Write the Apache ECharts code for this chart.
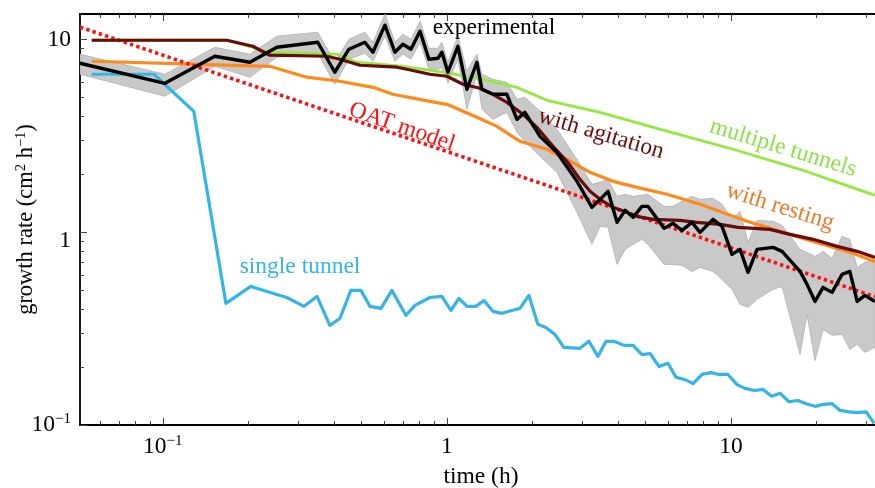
<!DOCTYPE html>
<html>
<head>
<meta charset="utf-8">
<style>
html, body {
  margin: 0;
  padding: 0;
  background: #fff;
}
#chart {
  width: 875px;
  height: 488px;
}
</style>
</head>
<body>
<div id="chart"></div>
<script src="https://cdn.jsdelivr.net/npm/echarts@6/dist/echarts.min.js"></script>
<script>
// axis ranges and ticks
var xMin = 0.0511, xMax = 34.0
var yMin = 0.1, yMax = 13.6
var xMajor = [0.1, 1, 10]
var xMajorLabels = ['10{sup|−1}', '1', '10']
var xMinor = [0.06, 0.07, 0.08, 0.09, 0.2, 0.3, 0.4, 0.5, 0.6, 0.7, 0.8, 0.9, 2, 3, 4, 5, 6, 7, 8, 9, 20, 30]
var yMajor = [0.1, 1, 10]
var yMajorLabels = ['10{sup|−1}', '{low|1}', '10']
var yMinor = [0.2, 0.3, 0.4, 0.5, 0.6, 0.7, 0.8, 0.9, 2, 3, 4, 5, 6, 7, 8, 9]

// experimental mean and its spread (grey band)
var expTime = [0.0511, 0.1017, 0.1524, 0.2025, 0.252, 0.351, 0.403, 0.452, 0.514, 0.549, 0.605, 0.656, 0.700, 0.747, 0.804, 0.864, 0.930, 0.960, 1.008, 1.093, 1.176, 1.275, 1.328, 1.452, 1.626, 1.764, 1.882, 2.126, 2.44, 2.87, 3.24, 3.46, 3.69, 3.97, 4.24, 4.52, 4.86, 5.10, 5.81, 6.25, 6.72, 7.29, 7.78, 8.64, 9.30, 10.08, 10.76, 11.48, 12.35, 14.06, 15.12, 17.50, 18.52, 19.76, 21.09, 22.68, 24.6, 26.2, 27.8, 29.6, 32.1]
var expRate = [7.55, 5.94, 8.21, 7.64, 9.14, 9.70, 6.78, 8.93, 9.70, 8.61, 11.9, 8.61, 9.48, 8.93, 11.07, 7.92, 8.01, 8.61, 6.78, 9.25, 5.53, 7.64, 5.53, 5.21, 5.21, 3.86, 4.20, 3.15, 2.60, 1.84, 1.349, 1.484, 1.633, 1.127, 1.301, 1.197, 1.365, 1.365, 1.049, 1.114, 1.024, 1.127, 1.0, 1.168, 1.075, 0.769, 0.816, 0.620, 0.816, 0.836, 0.797, 0.627, 0.537, 0.438, 0.518, 0.488, 0.605, 0.627, 0.438, 0.471, 0.438]
var expLow = [6.62, 5.09, 7.28, 6.39, 8.11, 8.51, 5.87, 7.92, 8.51, 7.73, 10.43, 7.73, 8.41, 7.92, 9.70, 7.03, 7.03, 7.20, 5.94, 7.92, 4.36, 6.62, 4.36, 3.86, 4.20, 3.31, 2.97, 2.48, 2.05, 1.270, 0.866, 1.075, 1.062, 0.682, 0.816, 0.866, 0.920, 0.866, 0.682, 0.682, 0.674, 0.627, 0.658, 0.627, 0.570, 0.506, 0.423, 0.408, 0.449, 0.506, 0.524, 0.232, 0.375, 0.216, 0.313, 0.292, 0.295, 0.247, 0.262, 0.238, 0.253]
var expHigh = [8.41, 6.62, 9.14, 8.41, 10.43, 10.94, 7.64, 10.06, 10.94, 9.70, 13.57, 9.70, 10.68, 10.06, 12.48, 9.03, 9.03, 9.70, 7.64, 10.43, 6.86, 8.41, 6.62, 6.23, 6.02, 4.91, 5.03, 4.25, 3.43, 2.39, 1.776, 1.819, 1.885, 1.538, 1.576, 1.538, 1.557, 1.576, 1.365, 1.365, 1.449, 1.538, 1.484, 1.502, 1.398, 1.168, 1.285, 0.887, 1.154, 1.141, 1.087, 0.816, 0.787, 0.750, 0.797, 0.733, 0.953, 0.920, 0.658, 0.699, 0.715]

// model curves [time, rate]
var singleTunnel = [[0.0562, 6.62], [0.093, 6.62], [0.1285, 4.25], [0.1667, 0.428], [0.204, 0.524], [0.273, 0.459], [0.314, 0.413], [0.349, 0.465], [0.387, 0.329], [0.42, 0.357], [0.459, 0.5], [0.498, 0.5], [0.536, 0.413], [0.586, 0.403], [0.64, 0.5], [0.717, 0.371], [0.772, 0.418], [0.871, 0.459], [0.96, 0.465], [1.033, 0.393], [1.102, 0.454], [1.176, 0.413], [1.265, 0.413], [1.35, 0.443], [1.452, 0.389], [1.562, 0.38], [1.694, 0.393], [1.807, 0.403], [1.944, 0.471], [2.09, 0.333], [2.23, 0.321], [2.4, 0.295], [2.58, 0.253], [2.94, 0.25], [3.16, 0.272], [3.4, 0.227], [3.63, 0.272], [3.87, 0.272], [4.2, 0.259], [4.52, 0.259], [4.86, 0.232], [5.19, 0.235], [5.58, 0.201], [6.0, 0.209], [6.4, 0.177], [6.89, 0.172], [7.35, 0.164], [7.91, 0.183], [8.5, 0.187], [9.07, 0.183], [9.76, 0.183], [10.5, 0.162], [11.2, 0.155], [12.1, 0.151], [12.96, 0.153], [13.9, 0.141], [14.9, 0.146], [16.0, 0.132], [17.2, 0.134], [18.4, 0.129], [19.8, 0.125], [21.1, 0.128], [22.7, 0.129], [24.2, 0.119], [26.0, 0.117], [27.8, 0.116], [29.9, 0.117], [31.9, 0.102]]
var multipleTunnels = [[0.0562, 9.94], [0.168, 9.94], [0.238, 8.61], [0.41, 8.41], [0.482, 7.64], [0.70, 7.28], [0.968, 6.78], [1.339, 6.23], [1.764, 5.66], [2.249, 4.85], [3.457, 4.20], [5.95, 3.35], [10.16, 2.70], [17.5, 2.125], [32.1, 1.557]]
var withAgitation = [[0.0562, 9.94], [0.168, 9.94], [0.2074, 9.25], [0.238, 8.31], [0.378, 8.21], [0.42, 7.92], [0.494, 7.37], [0.667, 7.20], [0.723, 7.03], [0.871, 6.62], [1.0, 6.46], [1.139, 5.87], [1.307, 5.60], [1.452, 5.21], [1.626, 4.73], [1.852, 4.10], [2.074, 3.51], [2.362, 2.80], [2.646, 2.34], [2.94, 1.885], [3.19, 1.633], [3.457, 1.484], [3.842, 1.349], [4.30, 1.270], [4.67, 1.211], [5.31, 1.168], [6.61, 1.154], [7.59, 1.127], [9.15, 1.100], [10.58, 1.062], [13.72, 1.036], [16.13, 0.976], [19.44, 0.920], [23.62, 0.846], [27.8, 0.797], [32.1, 0.741]]
var withResting = [[0.0562, 7.73], [0.238, 7.28], [0.321, 6.39], [0.42, 6.09], [0.549, 5.66], [0.645, 5.21], [0.871, 4.79], [1.0, 4.62], [1.139, 4.25], [1.275, 3.96], [1.5, 3.55], [1.807, 2.97], [2.249, 2.70], [2.646, 2.39], [3.19, 2.05], [3.842, 1.84], [4.67, 1.713], [5.95, 1.576], [7.78, 1.398], [11.39, 1.141], [14.88, 1.012], [19.44, 0.898], [25.62, 0.797], [32.1, 0.707]]
var oatModel = [[0.0511, 11.63], [32.1, 0.464]]

var serif = '"Liberation Serif", "DejaVu Serif", serif'
var fs = 23.5
var richStyles = {
  sup: { fontSize: 15, fontFamily: serif, color: '#000', verticalAlign: 'top', lineHeight: 14 },
  low: { fontSize: fs, fontFamily: serif, color: '#000', padding: [16, 0, 0, 0] }
}
var nameRich = {
  sup: { fontSize: 14.5, fontFamily: serif, color: '#000', verticalAlign: 'top', lineHeight: 12 }
}

function nearestIndex (list, v) {
  var best = 0
  for (var i = 1; i < list.length; i++) {
    if (Math.abs(Math.log(list[i]) - Math.log(v)) < Math.abs(Math.log(list[best]) - Math.log(v))) best = i
  }
  return best
}

function tickAxis (kind, position, ticks, len, withLine, labels) {
  var ax = {
    type: 'log',
    position: position,
    min: kind === 'x' ? xMin : yMin,
    max: kind === 'x' ? xMax : yMax,
    axisLine: { show: withLine, lineStyle: { color: '#000', width: 1.8 } },
    axisTick: { show: true, inside: true, length: len, customValues: ticks, lineStyle: { color: '#444', width: 1 } },
    axisLabel: { show: false },
    splitLine: { show: false },
    minorTick: { show: false }
  }
  if (labels) {
    ax.axisLabel = {
      show: true,
      customValues: ticks,
      margin: 9,
      color: '#000',
      fontSize: fs,
      fontFamily: serif,
      lineHeight: 26,
      rich: richStyles,
      formatter: function (v) { return labels[nearestIndex(ticks, v)] }
    }
  }
  return ax
}

var xAxes = [
  tickAxis('x', 'bottom', xMajor, 7, true, xMajorLabels),
  tickAxis('x', 'bottom', xMinor, 4, false),
  tickAxis('x', 'top', xMajor, 7, true),
  tickAxis('x', 'top', xMinor, 4, false)
]
xAxes[0].name = 'time (h)'
xAxes[0].nameLocation = 'middle'
xAxes[0].nameGap = 40
xAxes[0].nameMoveOverlap = false
xAxes[0].nameTextStyle = { color: '#000', fontSize: fs, fontFamily: serif }

var yAxes = [
  tickAxis('y', 'left', yMajor, 7, true, yMajorLabels),
  tickAxis('y', 'left', yMinor, 4, false)
]
yAxes[0].name = 'growth rate (cm{sup|2} h{sup|−1})'
yAxes[0].nameLocation = 'middle'
yAxes[0].nameGap = 42
yAxes[0].nameMoveOverlap = false
yAxes[0].nameTextStyle = { color: '#000', fontSize: 22.5, fontFamily: serif, lineHeight: 24, rich: nameRich }

function curve (name, data, color, width, z, dash) {
  return {
    name: name,
    type: 'line',
    data: data,
    showSymbol: false,
    symbol: 'none',
    z: z,
    silent: true,
    lineStyle: { color: color, width: width, type: dash || 'solid', cap: 'butt', join: 'round' }
  }
}

function note (text, x, y, deg, color) {
  return {
    type: 'text',
    x: x,
    y: y,
    rotation: -deg * Math.PI / 180,
    z: 100,
    style: {
      text: text,
      fill: color,
      font: fs + 'px ' + serif,
      align: 'center',
      verticalAlign: 'middle',
      textAlign: 'center',
      textVerticalAlign: 'middle'
    }
  }
}

var chart = echarts.init(document.getElementById('chart'), null, { renderer: 'canvas' })

var option = {
  animation: false,
  backgroundColor: '#fff',
  textStyle: { fontFamily: serif },
  grid: { left: 80, right: -7, top: 14, bottom: 63, containLabel: false, outerBoundsMode: 'none' },
  xAxis: xAxes,
  yAxis: yAxes,
  series: [
    {
      name: 'spread',
      type: 'custom',
      z: 1,
      silent: true,
      clip: true,
      data: expTime.map(function (t, i) { return [t, expLow[i], expHigh[i]] }),
      encode: { x: 0, y: [1, 2] },
      renderItem: function (params, api) {
        if (params.dataIndex !== 0) return null
        var top = []
        var bottom = []
        for (var i = 0; i < expTime.length; i++) {
          top.push(api.coord([expTime[i], expHigh[i]]))
          bottom.push(api.coord([expTime[i], expLow[i]]))
        }
        return {
          type: 'polygon',
          shape: { points: top.concat(bottom.reverse()) },
          style: { fill: '#c9c9c9', stroke: '#b0b0b0', lineWidth: 0.8 }
        }
      }
    },
    curve('single tunnel', singleTunnel, '#33b5e5', 3.2, 2),
    curve('multiple tunnels', multipleTunnels, '#95e83f', 2.8, 3),
    curve('with resting', withResting, '#ff8a1c', 3.2, 4),
    curve('OAT model', oatModel, '#ff1010', 3.6, 5, [3.4, 3.2]),
    curve('with agitation', withAgitation, '#6a0b0b', 3.2, 6),
    curve('experimental', expTime.map(function (t, i) { return [t, expRate[i]] }), '#000000', 3.4, 7)
  ],
  graphic: [
    note('experimental', 494, 28, 0, '#000000'),
    note('OAT model', 402, 127, 19, '#ff1010'),
    note('with agitation', 601, 134, 16.5, '#6a0b0b'),
    note('multiple tunnels', 783, 148, 17, '#8ee04a'),
    note('with resting', 780, 207, 17.5, '#ea7a2a'),
    note('single tunnel', 300, 267, 0, '#33b5e5')
  ]
}

chart.setOption(option)
</script>
</body>
</html>
